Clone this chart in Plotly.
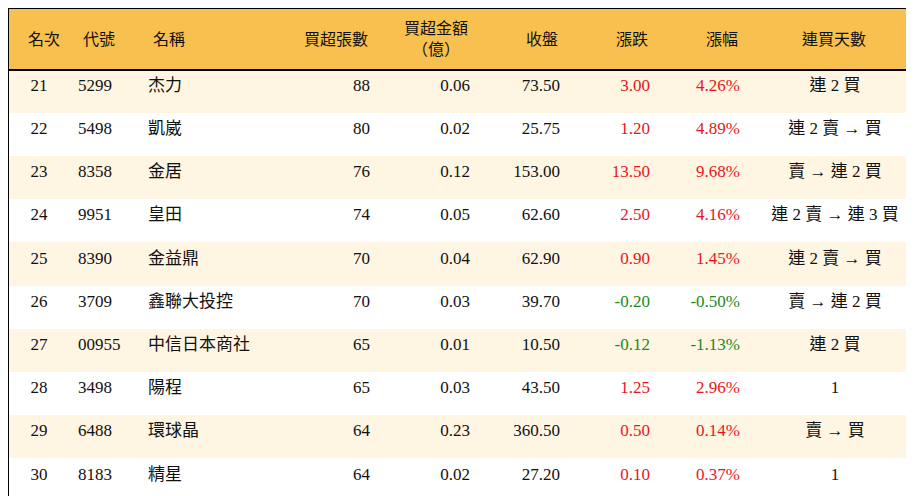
import plotly.graph_objects as go

rank = [21, 22, 23, 24, 25, 26, 27, 28, 29, 30]
code = ["5299", "5498", "8358", "9951", "8390", "3709", "00955", "3498", "6488", "8183"]
name = ["杰力", "凱崴", "金居", "皇田", "金益鼎", "鑫聯大投控", "中信日本商社", "陽程", "環球晶", "精星"]
lots = [88, 80, 76, 74, 70, 70, 65, 65, 64, 64]
amount = [0.06, 0.02, 0.12, 0.05, 0.04, 0.03, 0.01, 0.03, 0.23, 0.02]
close = [73.50, 25.75, 153.00, 62.60, 62.90, 39.70, 10.50, 43.50, 360.50, 27.20]
change = [3.00, 1.20, 13.50, 2.50, 0.90, -0.20, -0.12, 1.25, 0.50, 0.10]
pct = [4.26, 4.89, 9.68, 4.16, 1.45, -0.50, -1.13, 2.96, 0.14, 0.37]
streak = ["連 2 買", "連 2 賣 → 買", "賣 → 連 2 買", "連 2 賣 → 連 3 買", "連 2 賣 → 買",
          "賣 → 連 2 買", "連 2 買", "1", "賣 → 買", "1"]
headers = ["名次", "代號", "名稱", "買超張數", "買超金額<br>（億）", "收盤", "漲跌", "漲幅", "連買天數"]

RED, GREEN, BLACK = "#E8161C", "#1A8A1A", "#111111"
HEAD = "#F8C04E"
W, H, HEAD_H = 914, 496, 62
row_fill = ["#FEF5E3" if i % 2 == 0 else "#FFFFFF" for i in range(len(rank))]
chg_col = [RED if v > 0 else GREEN for v in change]

cells = [
    [str(r) for r in rank],
    code,
    name,
    [str(v) for v in lots],
    [f"{v:.2f}" for v in amount],
    [f"{v:.2f}" for v in close],
    [f"{v:.2f}" for v in change],
    [f"{v:.2f}%" for v in pct],
    streak,
]
colors = [BLACK, BLACK, BLACK, BLACK, BLACK, BLACK, chg_col, chg_col, BLACK]
font = "Liberation Serif, Noto Sans CJK TC"
aligns = ["center", "left", "left", "right", "right", "right", "right", "right", "center"]

fig = go.Figure(go.Table(
    columnwidth=[62, 70, 138, 100, 100, 90, 90, 90, 174],
    header=dict(values=[""] * 9, fill_color=HEAD, line_color=HEAD, height=HEAD_H,
                font=dict(family=font, size=16, color=BLACK)),
    cells=dict(values=cells, fill_color=[row_fill] * 9, line_color=[row_fill] * 9, height=43.2,
               align=aligns, font=dict(family=font, size=17, color=colors)),
))

# header labels drawn as annotations so they sit vertically centred
head_x = [36, 73, 143, 362, 462, 552, 642, 732, 826]
for txt, x, al in zip(headers, head_x, aligns):
    fig.add_annotation(text=txt, x=x / W, y=1 - HEAD_H / 2 / H, xref="paper", yref="paper",
                       xanchor=al, yanchor="middle", showarrow=False, align="center",
                       font=dict(family=font, size=16, color=BLACK))

fig.update_layout(width=W, height=H, margin=dict(l=0, r=0, t=0, b=0),
                  paper_bgcolor="white")
fig.add_shape(type="rect", xref="paper", yref="paper", x0=0, x1=1, y0=0, y1=1,
              line=dict(color="black", width=2))
fig.add_shape(type="line", xref="paper", yref="paper", x0=0, x1=1,
              y0=1 - HEAD_H / H, y1=1 - HEAD_H / H, line=dict(color="black", width=2))
fig.write_html("out.html")
